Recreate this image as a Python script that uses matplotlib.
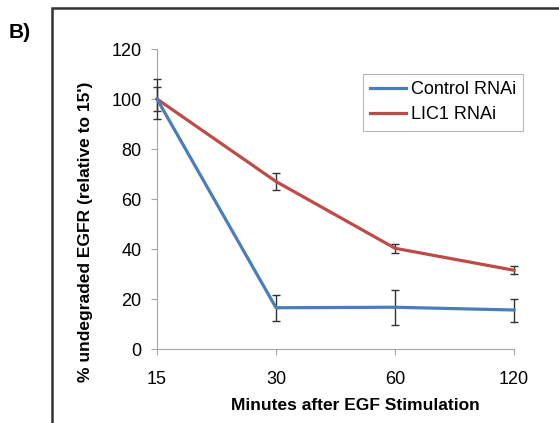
import matplotlib.pyplot as plt
from matplotlib.patches import Rectangle

plt.rcParams['font.family'] = ['Liberation Sans', 'DejaVu Sans']

# data
minutes = ['15', '30', '60', '120']
control = [100, 16.5, 16.7, 15.6]
control_err = [8, 5.3, 7, 4.6]
lic1 = [100, 67, 40.3, 31.5]
lic1_err = [4.8, 3.5, 1.9, 1.6]
yticks = [0, 20, 40, 60, 80, 100, 120]

W, H = 559, 423
fig = plt.figure(figsize=(W / 100, H / 100), dpi=100)
ax = fig.add_axes([157 / W, 1 - 349 / H, (514 - 157) / W, (349 - 49) / H])

x = range(len(minutes))
c1 = ax.errorbar(x, control, yerr=control_err, color='#4a7ebb', lw=2.3,
                 ecolor='#333333', elinewidth=1, capsize=3, capthick=1, zorder=3)
c2 = ax.errorbar(x, lic1, yerr=lic1_err, color='#be4b48', lw=2.3,
                 ecolor='#333333', elinewidth=1, capsize=3, capthick=1, zorder=2)

ax.set_xlim(0, 3)
ax.set_ylim(0, 120)
ax.set_xticks(list(x))
ax.set_xticklabels(minutes)
ax.set_yticks(yticks)
for s in ['top', 'right']:
    ax.spines[s].set_visible(False)
for s in ['left', 'bottom']:
    ax.spines[s].set_color('#a6a6a6')
ax.tick_params(colors='#a6a6a6', labelcolor='black', labelsize=13, length=4)
ax.tick_params(axis='y', pad=7)
ax.tick_params(axis='x', pad=12)

ax.set_xlabel('Minutes after EGF Stimulation', fontsize=12.5, fontweight='bold')
ax.xaxis.set_label_coords((355 - 157) / (514 - 157), -(406 - 349) / 300)
ax.xaxis.label.set_va('center')
ax.set_ylabel("% undegraded EGFR (relative to 15')", fontsize=12.5, fontweight='bold')
ax.yaxis.set_label_coords(-(157 - 86) / (514 - 157), (349 - 232) / 300)
ax.yaxis.label.set_va('center')

# make error bars visible above the axes edge
for art in ax.get_children():
    try:
        art.set_clip_on(False)
    except Exception:
        pass

leg = ax.legend(handles=[c1[0], c2[0]], labels=['Control RNAi', 'LIC1 RNAi'],
                loc='upper left', bbox_to_anchor=((363 - 157) / (514 - 157), (349 - 74) / 300),
                fontsize=13, frameon=True, fancybox=False, edgecolor='#a6a6a6',
                handlelength=2.0, handletextpad=0.25, borderpad=0.4, labelspacing=0.45,
                borderaxespad=0)
leg.get_frame().set_linewidth(0.8)

# outer frame
fig.patches.append(Rectangle((52 / W, -0.1), 1.2, 1 - 8 / H + 0.1, transform=fig.transFigure,
                             fill=False, edgecolor='#333333', lw=1.8))
fig.text(9 / W, 1 - 33 / H, 'B)', fontsize=15, fontweight='bold', va='center', ha='left')

fig.savefig('out.png', dpi=100)
